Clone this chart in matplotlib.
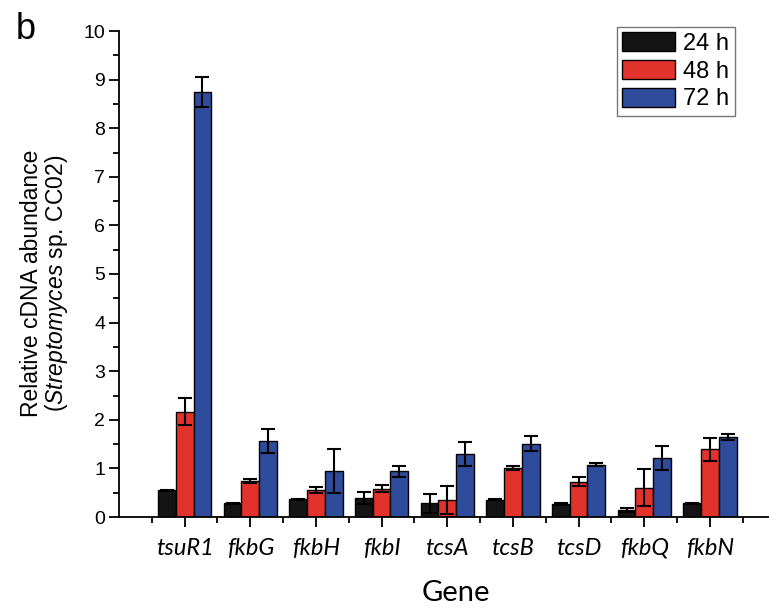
import numpy as np
import matplotlib
matplotlib.use("Agg")
import matplotlib.pyplot as plt
from matplotlib.ticker import MultipleLocator

genes = ["tsuR1", "fkbG", "fkbH", "fkbI", "tcsA", "tcsB", "tcsD", "fkbQ", "fkbN"]
series = ["24 h", "48 h", "72 h"]

val_24 = [0.55, 0.28, 0.37, 0.39, 0.28, 0.36, 0.26, 0.14, 0.28]
err_24 = [0.01, 0.01, 0.01, 0.13, 0.19, 0.02, 0.02, 0.04, 0.01]
val_48 = [2.17, 0.74, 0.55, 0.58, 0.35, 1.01, 0.73, 0.60, 1.39]
err_48 = [0.28, 0.05, 0.06, 0.07, 0.28, 0.04, 0.10, 0.38, 0.23]
val_72 = [8.74, 1.56, 0.94, 0.94, 1.30, 1.51, 1.08, 1.21, 1.65]
err_72 = [0.31, 0.25, 0.45, 0.11, 0.25, 0.15, 0.03, 0.25, 0.06]

colors = ["#141414", "#e2322c", "#2f4b9b"]

plt.rcParams["font.family"] = ["Liberation Sans", "DejaVu Sans"]
plt.rcParams["mathtext.fontset"] = "custom"
plt.rcParams["mathtext.it"] = "Liberation Sans:italic"
plt.rcParams["mathtext.rm"] = "Liberation Sans"

fig = plt.figure(figsize=(7.69, 6.11), dpi=100)
ax = fig.add_axes([119 / 769, 94 / 611, 650 / 769, 486 / 611])

x = np.arange(1, len(genes) + 1)
w = 0.27
for i, (vals, errs) in enumerate([(val_24, err_24), (val_48, err_48), (val_72, err_72)]):
    ax.bar(x + (i - 1) * w, vals, w, yerr=errs, color=colors[i], edgecolor="black",
           linewidth=1.0, label=series[i],
           error_kw=dict(ecolor="black", elinewidth=1.5, capsize=5, capthick=1.5))

ax.set_xlim(0, 9.9)
ax.set_ylim(0, 10)
ax.spines["top"].set_visible(False)
ax.spines["right"].set_visible(False)
ax.spines["left"].set_linewidth(1.3)
ax.spines["bottom"].set_linewidth(1.3)

ax.yaxis.set_major_locator(MultipleLocator(1))
ax.yaxis.set_minor_locator(MultipleLocator(0.5))
ax.set_xticks(x)
ax.set_xticks(np.arange(0.5, 10, 1), minor=True)
ax.tick_params(axis="both", which="major", direction="out", length=7, width=1.3)
ax.tick_params(axis="both", which="minor", direction="out", length=4, width=1.3)
ax.tick_params(axis="y", labelsize=14, pad=3)
ax.tick_params(axis="x", pad=8)
ax.set_xticklabels(genes, fontsize=17, fontstyle="italic", family="Lato")

ax.set_xlabel("Gene", fontsize=21, family="Lato", labelpad=12)
ax.xaxis.set_label_coords(0.518, -0.13)
ax.set_ylabel("Relative cDNA abundance\n($\\it{Streptomyces}$ sp. CC02)",
              fontsize=16.5, linespacing=1.0)
ax.yaxis.set_label_coords(-0.076, 0.48)

leg = ax.legend(loc="upper right", bbox_to_anchor=(0.947, 1.008), borderaxespad=0,
                fontsize=17, frameon=True, fancybox=False, edgecolor="#555555",
                handlelength=2.25, handleheight=0.85, handletextpad=0.35,
                labelspacing=0.22, borderpad=0.22)
leg.get_frame().set_linewidth(1.0)

fig.text(16 / 769, 1 - 39 / 611, "b", fontsize=26, va="baseline", ha="left")

fig.savefig("out.png", dpi=100)
